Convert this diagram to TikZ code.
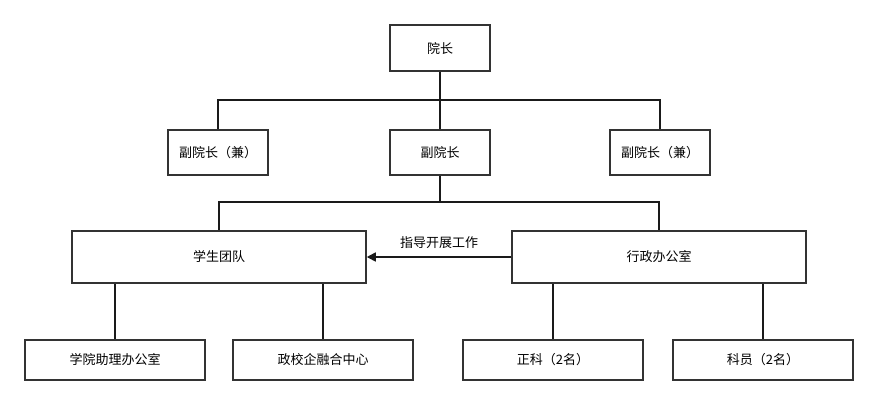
\documentclass[tikz,border=0pt]{standalone}
\usepackage{fontspec}
\usepackage{xcolor}
\usetikzlibrary{
    positioning,
    calc,
    arrows.meta
}
\newfontfamily\cjk{Noto Sans CJK SC}
\definecolor{Moldura}{HTML}{333333}
\definecolor{Linha}{HTML}{1A1A1A}

\begin{document}
\begin{tikzpicture}[
    x=1pt, y=-1pt,
    orgbox/.style={
        draw=Moldura,
        line width=1.5pt,
        fill=white,
        inner sep=0pt,
        font=\cjk\fontsize{13}{15}\selectfont
    },
    elo/.style={draw=Linha, line width=1.5pt}
]

\useasboundingbox (0,0) rectangle (878,405);

\node[orgbox, minimum width=100pt, minimum height=46pt] (dean) at (440,48) {院长};

\node[orgbox, minimum width=100pt, minimum height=45pt] (vdleft) at (218,152.5) {副院长（兼）};
\node[orgbox, minimum width=100pt, minimum height=45pt] (vdean) at (440,152.5) {副院长};
\node[orgbox, minimum width=100pt, minimum height=45pt] (vdright) at (660,152.5) {副院长（兼）};

\node[orgbox, minimum width=294pt, minimum height=52pt] (team) at (219,257) {学生团队};
\node[orgbox, minimum width=294pt, minimum height=52pt] (office) at (659,257) {行政办公室};

\node[orgbox, minimum width=180pt, minimum height=40pt] (assist) at (115,360) {学院助理办公室};
\node[orgbox, minimum width=180pt, minimum height=40pt] (center) at (323,360) {政校企融合中心};
\node[orgbox, minimum width=180pt, minimum height=40pt] (chief) at (553,360) {正科（2名）};
\node[orgbox, minimum width=180pt, minimum height=40pt] (clerk) at (763,360) {科员（2名）};

\coordinate (bus1) at (440,100);
\coordinate (bus2) at (440,202);

\draw[elo] (dean) -- (vdean);
\draw[elo] (bus1) -| (vdleft);
\draw[elo] (bus1) -| (vdright);

\draw[elo] (vdean) -- (bus2);
\draw[elo] (bus2) -| (team);
\draw[elo] (bus2) -| (office);

\draw[elo, -{Triangle[length=9pt, width=9pt]}] (office) -- (team)
    node[midway, above=4pt, font=\cjk\fontsize{13}{15}\selectfont] (guide) {指导开展工作};

\draw[elo] (team.south -| assist) -- (assist);
\draw[elo] (team.south -| center) -- (center);
\draw[elo] (office.south -| chief) -- (chief);
\draw[elo] (office.south -| clerk) -- (clerk);

\end{tikzpicture}
\end{document}
